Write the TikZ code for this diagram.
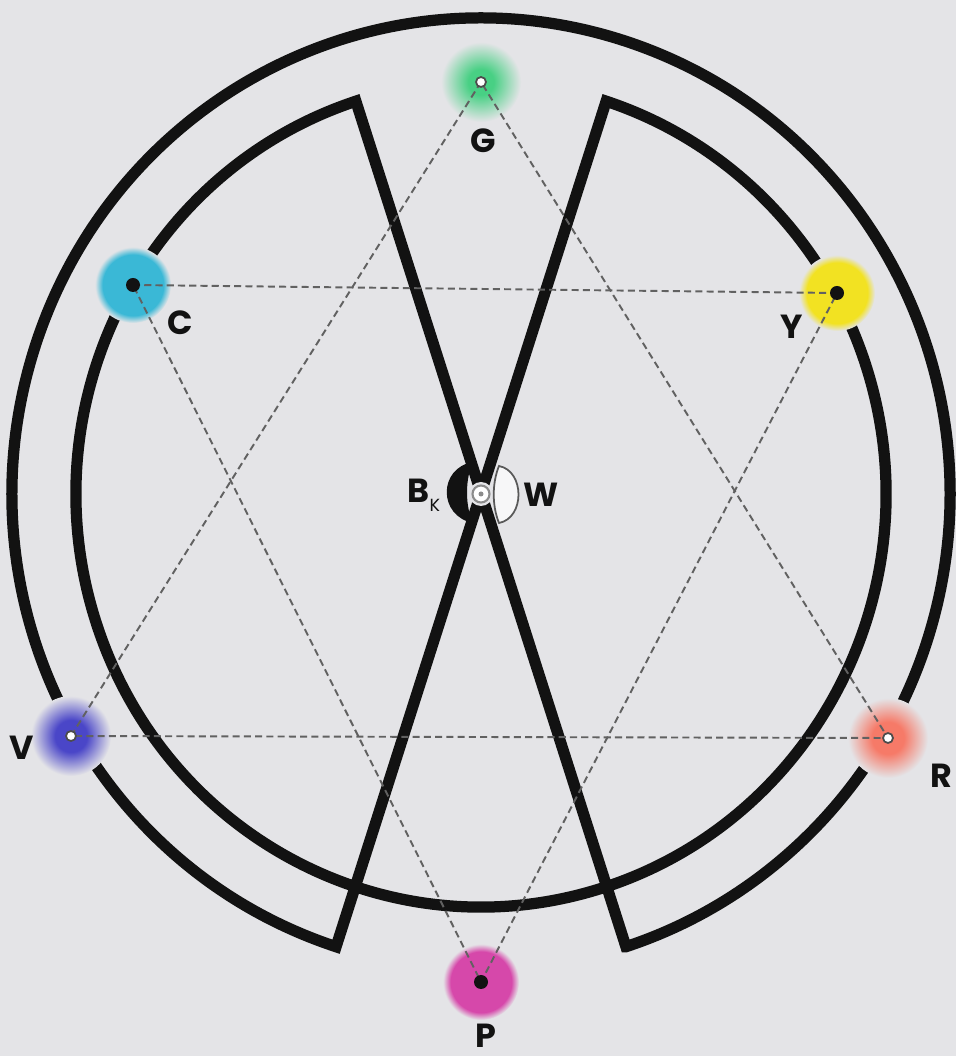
\documentclass[tikz,border=0pt]{standalone}
\usepackage{fontspec}
\setsansfont{Poppins}
\usetikzlibrary{calc}

\definecolor{paper}{RGB}{228,228,231}
\definecolor{ink}{RGB}{18,18,18}
\definecolor{gspot}{RGB}{72,208,132}
\definecolor{cspot}{RGB}{58,184,214}
\definecolor{yspot}{RGB}{242,226,34}
\definecolor{vspot}{RGB}{74,70,200}
\definecolor{rspot}{RGB}{246,122,104}
\definecolor{pspot}{RGB}{214,72,170}

% soft discs: solid core, fading into the paper
\newcommand{\softspot}[3]{%
  \pgfdeclareradialshading{#1glow}{\pgfpoint{0bp}{0bp}}{color(0bp)=(#2); color(#3bp)=(#2); color(25bp)=(paper); color(50bp)=(paper)}}
\softspot{G}{gspot}{8}
\softspot{C}{cspot}{20}
\softspot{Y}{yspot}{20}
\softspot{V}{vspot}{10}
\softspot{R}{rspot}{10}
\softspot{P}{pspot}{20}

\tikzset{
  wedge/.style={draw=ink, line width=3.2pt, line join=miter},
  hexline/.style={draw=black!62, line width=0.55pt, dash pattern=on 2pt off 1.2pt},
  lab/.style={font=\sffamily\bfseries\fontsize{9.5}{11}\selectfont, text=ink, inner sep=0pt},
  blackdot/.style={fill=ink},
  whitedot/.style={fill=white, draw=black!70, line width=0.5pt},
}

\begin{document}
\begin{tikzpicture}
  \fill[paper] (0,0) rectangle (9.56,10.56);
  \useasboundingbox (0,0) rectangle (9.56,10.56);

  \coordinate (O) at (4.81,5.62);
  \coordinate (G) at (4.81,9.74);
  \coordinate (C) at (1.33,7.71);
  \coordinate (Y) at (8.37,7.63);
  \coordinate (V) at (0.71,3.20);
  \coordinate (R) at (8.88,3.18);
  \coordinate (P) at (4.81,0.74);

  % the two crossed bands
  \draw[wedge] ($(O)+(-72:4.69 and 4.76)$) -- ($(O)+(108:4.05 and 4.13)$)
    arc[start angle=108, end angle=432, x radius=4.05, y radius=4.13]
    -- ($(O)+(252:4.69 and 4.76)$)
    arc[start angle=252, end angle=-72, x radius=4.69, y radius=4.76] -- cycle;

  % coloured discs
  \foreach \s/\r in {G/0.40, C/0.38, Y/0.38, V/0.40, R/0.40, P/0.38}
    \shade[shading=\s glow] (\s) circle (\r);

  % the two triangles
  \draw[hexline] (G) -- (V) -- (R) -- cycle;
  \draw[hexline] (C) -- (Y) -- (P) -- cycle;

  % black and white at the centre
  \fill[paper] (O) circle (0.12);
  \fill[ink] (4.73,5.94) .. controls (4.38,5.88) and (4.38,5.40) .. (4.73,5.33)
    .. controls (4.65,5.50) and (4.65,5.77) .. cycle;
  \filldraw[fill=white!70!paper, draw=black!65, line width=0.5pt]
    (4.99,5.90) .. controls (5.25,5.85) and (5.25,5.38) .. (4.99,5.33)
    .. controls (4.92,5.50) and (4.92,5.73) .. cycle;
  \filldraw[fill=white, draw=black!45, line width=0.6pt] (O) circle (0.085);
  \fill[black!45] (O) circle (0.025);

  % points
  \foreach \s in {C, Y, P}
    \fill[blackdot] (\s) circle (0.07);
  \foreach \s in {G, V, R}
    \filldraw[whitedot] (\s) circle (0.05);

  % labels
  \node[lab] (lG) at (4.83,9.15) {G};
  \node[lab] (lC) at (1.80,7.33) {C};
  \node[lab] (lY) at (7.92,7.29) {Y};
  \node[lab] (lV) at (0.22,3.08) {V};
  \node[lab] (lR) at (9.41,2.80) {R};
  \node[lab] (lP) at (4.86,0.20) {P};
  \node[lab] (lB) at (4.18,5.65) {B};
  \node[lab, font=\sffamily\fontsize{5}{6}\selectfont] (lK) at (4.35,5.51) {K};
  \node[lab] (lW) at (5.41,5.61) {W};
\end{tikzpicture}
\end{document}
